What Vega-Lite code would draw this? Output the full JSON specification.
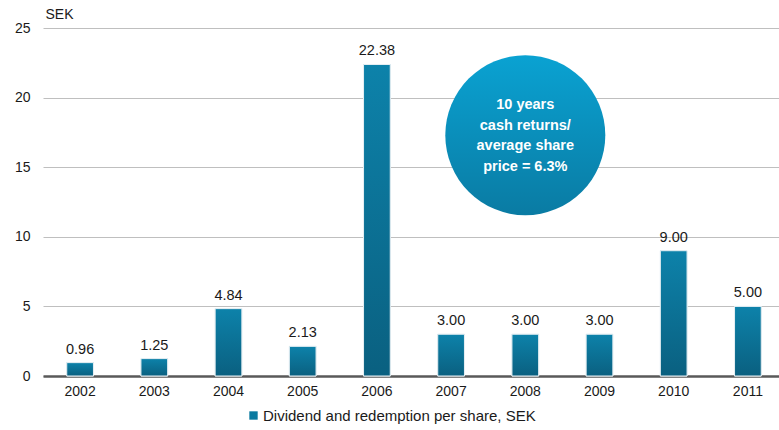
{
  "$schema": "https://vega.github.io/schema/vega-lite/v6.json",
  "autosize": "none",
  "width": 742,
  "height": 348,
  "padding": {"left": 43, "top": 28, "right": 0, "bottom": 54},
  "background": "white",
  "config": {
    "font": "Liberation Sans",
    "view": {"stroke": null}
  },
  "datasets": {
    "bars": [
      {"year": "2002", "value": 0.96, "label": "0.96", "series": "Dividend and redemption per share, SEK"},
      {"year": "2003", "value": 1.25, "label": "1.25", "series": "Dividend and redemption per share, SEK"},
      {"year": "2004", "value": 4.84, "label": "4.84", "series": "Dividend and redemption per share, SEK"},
      {"year": "2005", "value": 2.13, "label": "2.13", "series": "Dividend and redemption per share, SEK"},
      {"year": "2006", "value": 22.38, "label": "22.38", "series": "Dividend and redemption per share, SEK"},
      {"year": "2007", "value": 3.0, "label": "3.00", "series": "Dividend and redemption per share, SEK"},
      {"year": "2008", "value": 3.0, "label": "3.00", "series": "Dividend and redemption per share, SEK"},
      {"year": "2009", "value": 3.0, "label": "3.00", "series": "Dividend and redemption per share, SEK"},
      {"year": "2010", "value": 9.0, "label": "9.00", "series": "Dividend and redemption per share, SEK"},
      {"year": "2011", "value": 5.0, "label": "5.00", "series": "Dividend and redemption per share, SEK"}
    ],
    "note": [
      {"year": "2008", "value": 17.3, "text": ["10 years", "cash returns/", "average share", "price = 6.3%"]}
    ]
  },
  "encoding": {
    "x": {
      "field": "year", "type": "nominal", "sort": null,
      "scale": {"paddingInner": 0.64, "paddingOuter": 0.32},
      "axis": {
        "title": null, "labelAngle": 0, "labelFontSize": 14, "labelColor": "#1a1a1a",
        "ticks": false, "labelPadding": 8, "domainColor": "#595959", "domainWidth": 2.5
      }
    },
    "y": {
      "field": "value", "type": "quantitative",
      "scale": {"domain": [0, 25], "nice": false},
      "axis": {
        "values": [0, 5, 10, 15, 20, 25], "title": "SEK", "titleAngle": 0,
        "titleAlign": "left", "titleBaseline": "middle", "titleX": 2, "titleY": -14,
        "titleFontSize": 14, "titleFontWeight": "normal", "titleColor": "#1a1a1a",
        "labelFontSize": 14, "labelColor": "#1a1a1a", "labelPadding": 13,
        "ticks": false, "domain": false, "gridColor": "#bfbfbf", "gridWidth": 1
      }
    }
  },
  "layer": [
    {
      "data": {"name": "bars"},
      "mark": {"type": "bar", "stroke": "#e8f0f4", "strokeWidth": 1},
      "encoding": {
        "color": {
          "field": "series", "type": "nominal",
          "scale": {"range": ["#0a7aa0"]},
          "legend": {
            "title": null, "orient": "none", "legendX": 203, "legendY": 380,
            "symbolType": "square", "symbolSize": 70, "symbolStrokeWidth": 0,
            "labelFontSize": 15, "labelColor": "#1a1a1a", "labelOffset": 2, "labelLimit": 0
          }
        }
      }
    },
    {
      "data": {"name": "bars"},
      "mark": {
        "type": "bar", "stroke": "#e8f0f4", "strokeWidth": 1,
        "fill": {"gradient": "linear", "x1": 0, "y1": 0, "x2": 0, "y2": 1,
          "stops": [{"offset": 0, "color": "#0d82aa"}, {"offset": 1, "color": "#0a6080"}]}
      }
    },
    {
      "data": {"name": "bars"},
      "mark": {"type": "text", "baseline": "bottom", "dy": -6, "fontSize": 14.5, "color": "#1a1a1a"},
      "encoding": {"text": {"field": "label"}}
    },
    {
      "data": {"name": "note"},
      "mark": {
        "type": "point", "shape": "circle", "filled": true, "size": 25600, "opacity": 1,
        "fill": {"gradient": "linear", "x1": 0, "y1": 0, "x2": 0, "y2": 1,
          "stops": [{"offset": 0, "color": "#0aa2d2"}, {"offset": 1, "color": "#0a7ba3"}]}
      }
    },
    {
      "data": {"name": "note"},
      "mark": {"type": "text", "fontSize": 14.5, "fontWeight": "bold", "color": "white", "lineHeight": 20.5, "baseline": "middle", "dy": -30},
      "encoding": {"text": {"field": "text"}}
    }
  ]
}
